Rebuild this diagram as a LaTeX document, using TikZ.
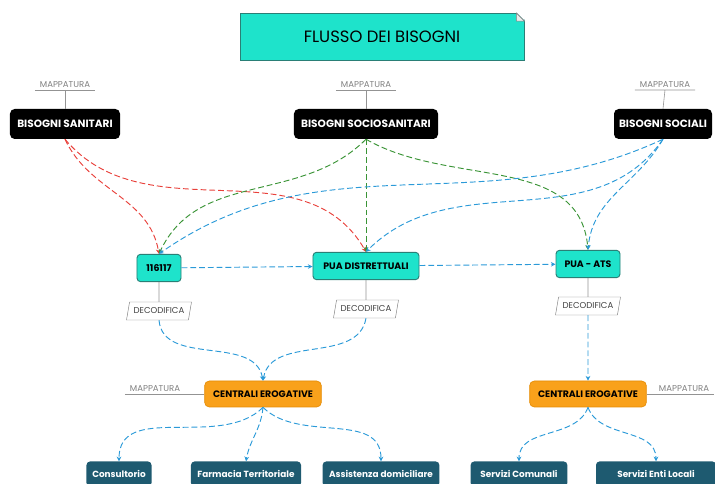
\documentclass[tikz,border=0pt]{standalone}
\usepackage{fontspec}
\setmainfont{Poppins}
\usetikzlibrary{arrows.meta,shapes.geometric}
\definecolor{turq}{HTML}{1EE3CB}
\definecolor{turqline}{HTML}{2A7F76}
\definecolor{orng}{HTML}{F9A11B}
\definecolor{orngline}{HTML}{E58C05}
\definecolor{petrol}{HTML}{1E5A70}
\definecolor{redflow}{HTML}{E8403A}
\definecolor{greenflow}{HTML}{3A9436}
\definecolor{blueflow}{HTML}{2B9AD8}
\begin{document}
\begin{tikzpicture}[x=0.03cm,y=0.03cm,
    need/.style={fill=black,text=white,rounded corners=4pt,minimum height=0.9cm,inner sep=2pt,font=\fontsize{9}{10}\selectfont\bfseries},
    pua/.style={draw=turqline,fill=turq,line width=0.8pt,rounded corners=3pt,minimum height=0.82cm,inner sep=2pt,font=\fontsize{8}{9}\selectfont\bfseries},
    deco/.style={draw=gray,trapezium,trapezium left angle=70,trapezium right angle=110,trapezium stretches body,minimum width=1.95cm,minimum height=0.54cm,inner sep=1pt,text=darkgray,font=\fontsize{7.3}{8}\selectfont},
    mapp/.style={anchor=south,minimum width=1.8cm,inner sep=2pt,text=gray,font=\fontsize{7.3}{8}\selectfont},
    centr/.style={fill=orng,draw=orngline,line width=0.6pt,rounded corners=4pt,minimum width=3.5cm,minimum height=0.78cm,font=\fontsize{8}{9}\selectfont\bfseries},
    serv/.style={fill=petrol,text=white,rounded corners=3pt,minimum height=0.75cm,inner sep=2pt,font=\fontsize{7.6}{8}\selectfont\bfseries},
    flow/.style={dash pattern=on 5pt off 2.5pt,line width=0.8pt,-{Stealth[length=4pt,width=4pt]}},
    thinline/.style={draw=gray!85,line width=0.5pt}]

    \useasboundingbox (0,0) rectangle (715,484);

    \node[draw=turqline,fill=turq,line width=0.8pt,minimum width=8.52cm,minimum height=1.41cm,font=\fontsize{14}{15}\selectfont] (title) at (382,447) {FLUSSO DEI BISOGNI};
    \fill[white] ([xshift=-7pt]title.north east) -- ([xshift=1pt,yshift=1pt]title.north east) -- ([yshift=-7pt]title.north east) -- cycle;
    \draw[turqline,line width=0.8pt] ([xshift=-7pt]title.north east) -- ([yshift=-7pt]title.north east);
    \draw[fill=gray!15,draw=gray,line width=0.4pt] ([xshift=-7pt]title.north east) -- ([yshift=-7pt]title.north east) -- ([xshift=-7pt,yshift=-7pt]title.north east) -- cycle;

    \node[need,minimum width=3.3cm] (san) at (65,360) {BISOGNI SANITARI};
    \node[need,minimum width=4.32cm] (socsan) at (366,360) {BISOGNI SOCIOSANITARI};
    \node[need,minimum width=2.94cm] (soc) at (663,360) {BISOGNI SOCIALI};

    \node[mapp] (mapsan) at (65,394) {MAPPATURA};
    \node[mapp] (mapsocsan) at (366,394) {MAPPATURA};
    \node[mapp] (mapsoc) at (665,394) {MAPPATURA};
    \draw[thinline] (mapsan.south west) -- (mapsan.south east) (mapsan.south) -- (san.north);
    \draw[thinline] (mapsocsan.south west) -- (mapsocsan.south east) (mapsocsan.south) -- (socsan.north);
    \draw[thinline] (mapsoc.south west) -- (mapsoc.south east) (mapsoc.south) -- (soc.north);

    \node[pua,minimum width=1.32cm] (num) at (159,216) {116117};
    \node[pua,minimum width=3.18cm] (puad) at (366,218) {PUA DISTRETTUALI};
    \node[pua,minimum width=1.92cm] (puaats) at (588,220) {PUA - ATS};

    \node[deco] (deca) at (159,173) {DECODIFICA};
    \node[deco] (decb) at (366,175) {DECODIFICA};
    \node[deco] (decc) at (588,178) {DECODIFICA};
    \draw[thinline] (num) -- (deca);
    \draw[thinline] (puad) -- (decb);
    \draw[thinline] (puaats) -- (decc);

    \node[centr] (cenl) at (263,90) {CENTRALI EROGATIVE};
    \node[centr] (cenr) at (588,90) {CENTRALI EROGATIVE};
    \node[mapp] (mapl) at (155,90) {MAPPATURA};
    \node[mapp] (mapr) at (684,90) {MAPPATURA};
    \draw[thinline] (mapl.south west) -- (cenl.west);
    \draw[thinline] (cenr.east) -- (mapr.south east);

    \node[serv,minimum width=1.95cm] (cons) at (119,10) {Consultorio};
    \node[serv,minimum width=3.3cm] (farm) at (246,10) {Farmacia Territoriale};
    \node[serv,minimum width=3.5cm] (assist) at (381,10) {Assistenza domiciliare};
    \node[serv,minimum width=2.9cm] (comun) at (519,10) {Servizi Comunali};
    \node[serv,minimum width=3.6cm] (enti) at (656,10) {Servizi Enti Locali};

    \draw[flow,redflow] (san.south) to[out=-65,in=100] (num.north);
    \draw[flow,redflow] (san.south) to[out=-50,in=120] (puad.north);
    \draw[flow,greenflow] (socsan.south) to[out=-135,in=65] (num.north);
    \draw[flow,greenflow] (socsan.south) -- (puad.north);
    \draw[flow,greenflow] (socsan.south) to[out=-30,in=95] (puaats.north);
    \draw[flow,blueflow] (soc.south) to[out=-155,in=35] (num.north);
    \draw[flow,blueflow] (soc.south) to[out=-125,in=45] (puad.north);
    \draw[flow,blueflow] (soc.south) to[out=-120,in=85] (puaats.north);

    \draw[flow,blueflow] (num) -- (puad);
    \draw[flow,blueflow] (puad) -- (puaats);

    \draw[flow,blueflow] (deca.south) to[out=-85,in=100] (cenl.north);
    \draw[flow,blueflow] (decb.south) to[out=-100,in=80] (cenl.north);
    \draw[flow,blueflow] (decc) -- (cenr);

    \draw[flow,blueflow] (cenl.south) to[out=-135,in=90] (cons.north);
    \draw[flow,blueflow] (cenl.south) to[out=-95,in=80] (farm.north);
    \draw[flow,blueflow] (cenl.south) to[out=-45,in=90] (assist.north);
    \draw[flow,blueflow] (cenr.south) to[out=-110,in=90] (comun.north);
    \draw[flow,blueflow] (cenr.south) to[out=-70,in=90] (enti.north);
\end{tikzpicture}
\end{document}
